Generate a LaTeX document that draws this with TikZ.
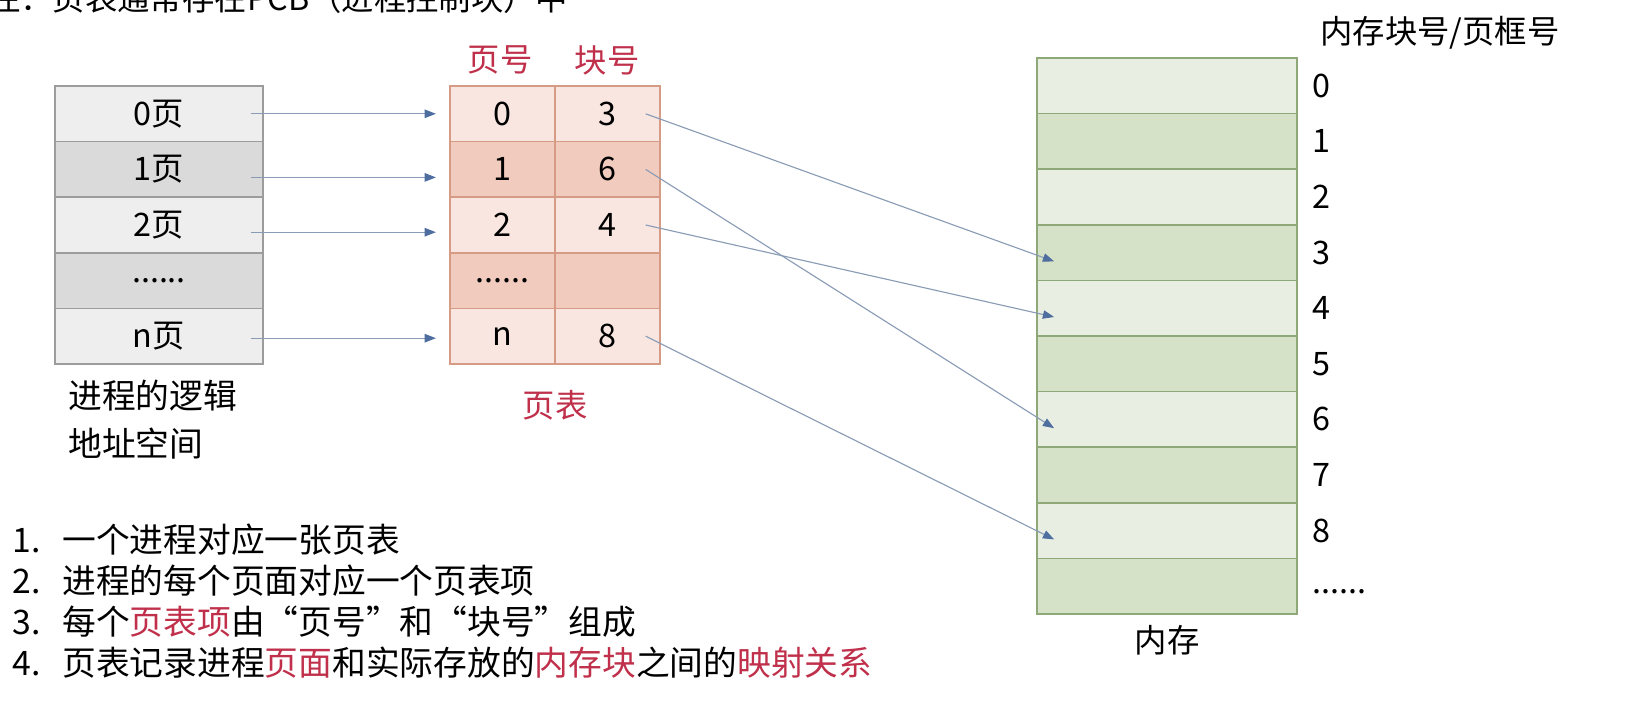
\documentclass[tikz,border=0pt]{standalone}
\usepackage{fontspec}
\setmainfont{Noto Sans CJK SC}
\usetikzlibrary{arrows.meta, positioning}
\definecolor{pagered}{RGB}{192, 48, 75}
\definecolor{graylt}{RGB}{238, 238, 238}
\definecolor{graydk}{RGB}{218, 218, 218}
\definecolor{grayline}{RGB}{156, 156, 156}
\definecolor{pinklt}{RGB}{249, 230, 224}
\definecolor{pinkdk}{RGB}{240, 203, 190}
\definecolor{pinkline}{RGB}{214, 155, 132}
\definecolor{greenlt}{RGB}{232, 238, 226}
\definecolor{greendk}{RGB}{213, 226, 199}
\definecolor{greenline}{RGB}{143, 168, 120}
\definecolor{linkgray}{RGB}{138, 156, 181}
\definecolor{tipblue}{RGB}{78, 110, 160}
\newcommand{\sixdots}{......}

\begin{document}
\begin{tikzpicture}[
  x=0.025cm, y=-0.025cm,
  every node/.style={font=\fontsize{23}{27}\selectfont},
  lrow/.style={draw=grayline, line width=1.2pt, fill=#1, minimum width=5.2cm, minimum height=1.39cm, inner sep=0pt},
  trow/.style={draw=pinkline, line width=1.2pt, fill=#1, minimum width=2.625cm, minimum height=1.39cm, inner sep=0pt},
  mrow/.style={draw=greenline, line width=1.2pt, fill=#1, minimum width=6.5cm, minimum height=1.39cm, inner sep=0pt},
  item/.style={anchor=west, inner sep=0pt, font=\fontsize{24}{29}\selectfont},
  link/.style={draw=linkgray, line width=0.8pt, -{Triangle[length=8pt, width=6pt, color=tipblue]}},
]
  \clip (0,0) rectangle (1640,722);
  \fill[white] (0,0) rectangle (1640,722);

  % cut-off heading
  \node[anchor=west, inner sep=0pt] (head) at (-12,-2) {注：页表通常存在PCB（进程控制块）中};

  % logical address space
  \foreach \i/\t/\c in {0/0页/graylt, 1/1页/graydk, 2/2页/graylt, 3/\sixdots/graydk, 4/n页/graylt}
    \node[lrow=\c] (p\i) at (159, {113.8+55.6*\i}) {\t};
  \node[anchor=west, align=left, inner sep=0pt, font=\fontsize{24}{34}\selectfont] (space) at (68, 420) {进程的逻辑\\地址空间};

  % page table
  \foreach \i/\a/\b/\c in {0/0/3/pinklt, 1/1/6/pinkdk, 2/2/4/pinklt, 3/\sixdots/{}/pinkdk, 4/n/8/pinklt} {
    \node[trow=\c] (t\i) at (502.5, {113.8+55.6*\i}) {\a};
    \node[trow=\c] (b\i) at (607.5, {113.8+55.6*\i}) {\b};
  }
  \node[text=pagered] (hpage) at (500, 60) {页号};
  \node[text=pagered] (hblock) at (607, 60) {块号};
  \node[text=pagered] (table) at (555, 405) {页表};

  % memory
  \foreach \i/\c in {0/greenlt, 1/greendk, 2/greenlt, 3/greendk, 4/greenlt, 5/greendk, 6/greenlt, 7/greendk, 8/greenlt, 9/greendk}
    \node[mrow=\c] (m\i) at (1167, {85.8+55.6*\i}) {};
  \foreach \i in {0,...,8}
    \node[anchor=west, inner sep=0pt] (n\i) at (1312, {85.8+55.6*\i}) {\i};
  \node[anchor=west, inner sep=0pt] (ndots) at (1312, 592) {\sixdots};
  \node (frame) at (1440, 33) {内存块号/页框号};
  \node (mem) at (1167, 640) {内存};

  % page -> entry
  \foreach \i/\s in {0/0, 1/-0.2, 2/-0.18, 4/-0.05}
    \draw[link] ([xshift=-0.33cm, yshift=\s cm]p\i.east) -- ([xshift=-0.33cm, yshift=\s cm]t\i.west);
  % entry -> frame
  \foreach \i/\m in {0/3, 1/6, 2/4, 4/8}
    \draw[link] ([xshift=-0.38cm]b\i.east) -- ([xshift=0.45cm, yshift=-0.22cm]m\m.west);

  % notes
  \node[item] (l1) at (12, 540) {\makebox[1.25cm][l]{1.}一个进程对应一张页表};
  \node[item] (l2) at (12, 581) {\makebox[1.25cm][l]{2.}进程的每个页面对应一个页表项};
  \node[item] (l3) at (12, 622) {\makebox[1.25cm][l]{3.}每个\textcolor{pagered}{页表项}由“页号”和“块号”组成};
  \node[item] (l4) at (12, 663) {\makebox[1.25cm][l]{4.}页表记录进程\textcolor{pagered}{页面}和实际存放的\textcolor{pagered}{内存块}之间的\textcolor{pagered}{映射关系}};
\end{tikzpicture}
\end{document}
